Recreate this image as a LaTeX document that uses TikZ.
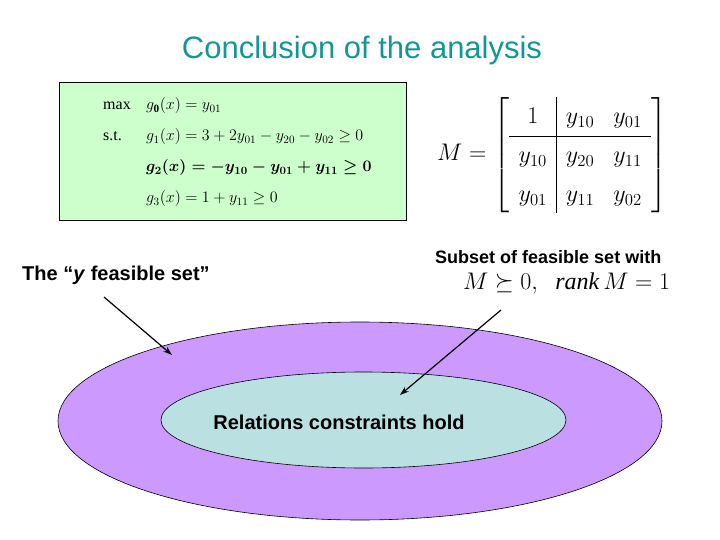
\RequirePackage{fix-cm}
\documentclass[tikz,border=0pt]{standalone}
\usepackage{amsmath,amssymb}
\usepackage{fontspec}
\setmainfont{Liberation Serif}
\setsansfont{Liberation Sans}
\usetikzlibrary{shapes.geometric,arrows.meta}
\definecolor{titleteal}{RGB}{20,150,150}
\definecolor{boxgreen}{RGB}{204,255,204}
\definecolor{outerlav}{RGB}{204,153,255}
\definecolor{innerblue}{RGB}{187,224,226}
\tikzset{
  lbl/.style={inner sep=0pt, font=\sffamily\bfseries\fontsize{20}{24}\selectfont},
  arr/.style={line width=1.2pt, -{Stealth[length=9pt,width=6pt]}},
  frm/.style={inner sep=0pt, anchor=base west, font=\fontsize{16}{19}\selectfont},
}
\begin{document}
\begin{tikzpicture}[x=1pt,y=-1pt]
\useasboundingbox (0,0) rectangle (720,540);
% title
\node[inner sep=0pt, text=titleteal, font=\sffamily\fontsize{31}{36}\selectfont] (title) at (362,50) {Conclusion of the analysis};
% constraint box
\node[draw=black, line width=0.8pt, fill=boxgreen, minimum width=347pt, minimum height=138pt, inner sep=0pt] (box) at (232.5,151) {};
\node[frm] (mx) at (103,110) {max};
\node[frm] (st) at (103,141) {s.t.};
\node[frm] (g0) at (146,110) {$g_{\mathbf 0}(x)=y_{01}$};
\node[frm] (g1) at (146,141) {$g_1(x)=3+2y_{01}-y_{20}-y_{02}\geq 0$};
\node[frm] (g2) at (146,172) {$\boldsymbol{g_2(x)=-y_{10}-y_{01}+y_{11}\geq 0}$};
\node[frm] (g3) at (146,203) {$g_3(x)=1+y_{11}\geq 0$};
% matrix
\node[inner sep=0pt, anchor=west, font=\fontsize{24}{29}\selectfont] (mat) at (437,155)
 {$M=\setlength{\arraycolsep}{9.5pt}\renewcommand{\arraystretch}{1.33}\left[\begin{array}{c|cc} 1 & y_{10} & y_{01}\\ \hline y_{10} & y_{20} & y_{11}\\ y_{01} & y_{11} & y_{02}\end{array}\right]$};
% labels
\node[lbl, anchor=west] (yset) at (22,275) {The \textquotedblleft\textit{y} feasible set\textquotedblright};
\node[inner sep=0pt, anchor=west, font=\sffamily\bfseries\fontsize{18}{22}\selectfont] (sub) at (435,257) {Subset of feasible set with};
\node[inner sep=0pt, anchor=west, font=\fontsize{24}{28}\selectfont] (cond) at (463,284) {$M\succeq 0,\;\;\mathit{rank}\,M=1$};
% ellipses
\node[ellipse, draw=black, line width=0.6pt, fill=outerlav, minimum width=604pt, minimum height=198pt, inner sep=0pt] (outer) at (360,421) {};
\node[ellipse, draw=black, line width=0.6pt, fill=innerblue, minimum width=405pt, minimum height=96pt, inner sep=0pt] (inner) at (363.5,420) {};
\node[lbl] (rel) at (339,422) {Relations constraints hold};
% arrows
\coordinate (a1s) at (104,297);
\coordinate (a1e) at (172,355);
\coordinate (a2s) at (501,310);
\coordinate (a2e) at (400,395);
\draw[arr] (a1s) -- (a1e);
\draw[arr] (a2s) -- (a2e);
\end{tikzpicture}
\end{document}
